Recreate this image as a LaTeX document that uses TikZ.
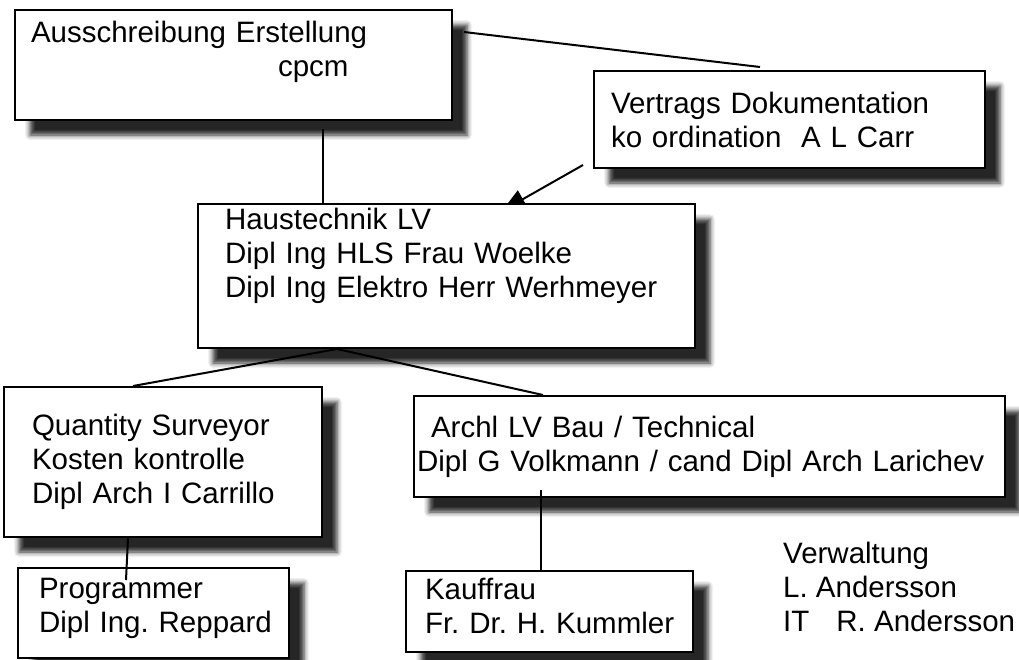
\documentclass[tikz,border=0pt]{standalone}
\usepackage{fontspec}
\setmainfont{Liberation Sans}
\usetikzlibrary{arrows.meta,shadows.blur,backgrounds}

\begin{document}
\begin{tikzpicture}[
			x=1pt, y=-1pt,
			every node/.style={font=\fontsize{29.5pt}{34pt}\selectfont\frenchspacing},
			unitbox/.style={rectangle, anchor=north west, align=left, draw=black, line width=2pt, fill=white,
				blur shadow={shadow xshift=15pt, shadow yshift=-15pt, shadow blur radius=5pt, shadow opacity=85}},
			link/.style={line width=2pt},
			arrow/.style={line width=2pt, -{Triangle[width=20pt,length=24pt]}}
		]
		\useasboundingbox (0,0) rectangle (1019,659);

		% Nodes
		\node (tender) [unitbox, inner xsep=16pt, text width=405pt, minimum height=110pt, text depth=65.5pt] at (14,9)
			{Ausschreibung Erstellung\\\hspace*{247pt}cpcm};
		\node (contract) [unitbox, inner xsep=17pt, text width=357pt, minimum height=97pt] at (593,70)
			{Vertrags Dokumentation\\ko ordination\ \ A L Carr};
		\node (building) [unitbox, inner xsep=27pt, text width=443pt, minimum height=144pt, text depth=113.5pt] at (197,203)
			{Haustechnik LV\\Dipl Ing HLS Frau Woelke\\Dipl Ing Elektro Herr Werhmeyer};

		% lower level
		\node (survey) [unitbox, inner xsep=28pt, text width=262pt, minimum height=150pt] at (3,386)
			{Quantity Surveyor\\Kosten kontrolle\\Dipl Arch I Carrillo};
		\node (archlv) [unitbox, inner xsep=3pt, text width=585pt, minimum height=101pt] at (413,395)
			{\hspace*{14pt}Archl LV Bau / Technical\\Dipl G Volkmann / cand Dipl Arch Larichev};
		\node (programmer) [unitbox, inner xsep=21pt, text width=229pt, minimum height=90pt, text depth=49.5pt] at (17,567)
			{Programmer\\\mbox{Dipl Ing. Reppard}};
		\node (clerk) [unitbox, inner xsep=19pt, text width=249pt, minimum height=81pt, text depth=44.5pt] at (405,570)
			{Kauffrau\\\mbox{Fr. Dr. H. Kummler}};
		\node (admin) [anchor=north west, inner sep=0pt, align=left] at (783,542)
			{Verwaltung\\L. Andersson\\IT\hspace{27pt}R. Andersson};

		% Connections
		\draw [link] ([xshift=11pt,yshift=-23pt]tender.north east) -- ([xshift=167pt,yshift=3pt]contract.north west);
		\draw [link] ([xshift=309pt,yshift=-8pt]tender.south west) -- ([xshift=126pt]building.north west);
		\begin{scope}[on background layer]
			\draw [arrow] ([xshift=-10pt,yshift=4pt]contract.south west) -- ([xshift=305pt,yshift=-8pt]building.north west);
		\end{scope}
		\draw [link] ([xshift=140pt]building.south west) -- ([xshift=130pt]survey.north west);
		\draw [link] ([xshift=140pt]building.south west) -- ([xshift=130pt]archlv.north west);
		\draw [link] ([xshift=125pt]survey.south west) -- ([xshift=109pt,yshift=-13pt]programmer.north west);
		\draw [link] ([xshift=128pt,yshift=8pt]archlv.south west) -- ([xshift=136pt]clerk.north west);

	\end{tikzpicture}
\end{document}
